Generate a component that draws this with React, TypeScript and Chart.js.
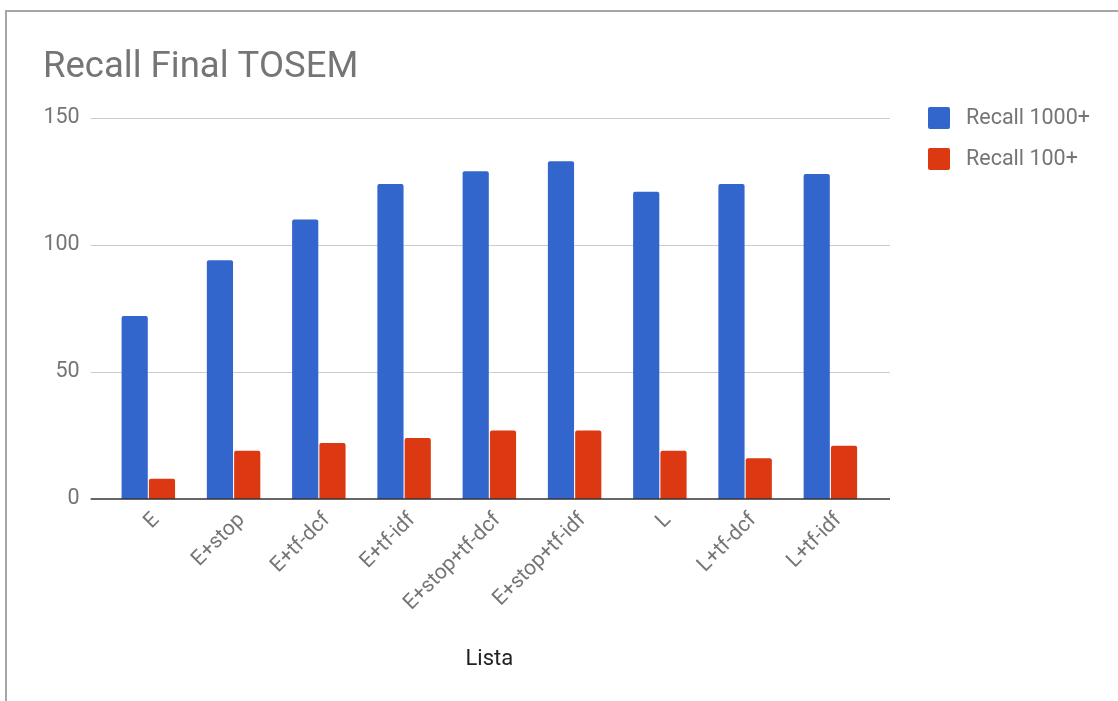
import { useEffect, useRef } from "react";
import { Chart, registerables } from "chart.js";

Chart.register(...registerables);

const categories = [
  "E",
  "E+stop",
  "E+tf-dcf",
  "E+tf-idf",
  "E+stop+tf-dcf",
  "E+stop+tf-idf",
  "L",
  "L+tf-dcf",
  "L+tf-idf",
];
const recall1000 = [72, 94, 110, 124, 129, 133, 121, 124, 128];
const recall100 = [8, 19, 22, 24, 27, 27, 19, 16, 21];
const seriesNames = ["Recall 1000+", "Recall 100+"];
const seriesColors = ["#3366cc", "#dc3912"];
const yTicks = [0, 50, 100, 150];
const chartTitle = "Recall Final TOSEM";
const xAxisTitle = "Lista";

const FONT = "Roboto, Arial, sans-serif";

// Gridlines, baseline, title, legend and axis title drawn around the plot.
const decorations = {
  id: "decorations",
  beforeDatasetsDraw(chart: any) {
    const { ctx, chartArea, scales } = chart;
    const y = scales.y;
    ctx.save();
    ctx.strokeStyle = "#cccccc";
    ctx.lineWidth = 1;
    for (const v of yTicks) {
      if (v === 0) continue;
      const py = Math.round(y.getPixelForValue(v)) + 0.5;
      ctx.beginPath();
      ctx.moveTo(chartArea.left - 15, py);
      ctx.lineTo(chartArea.right + 17, py);
      ctx.stroke();
    }
    ctx.restore();
  },
  afterDatasetsDraw(chart: any) {
    const { ctx, chartArea, scales } = chart;
    const py = scales.y.getPixelForValue(0);
    ctx.save();
    ctx.strokeStyle = "#333333";
    ctx.lineWidth = 1.5;
    ctx.beginPath();
    ctx.moveTo(chartArea.left - 15, py);
    ctx.lineTo(chartArea.right + 17, py);
    ctx.stroke();
    ctx.restore();
  },
  afterDraw(chart: any) {
    const { ctx, chartArea } = chart;
    ctx.save();

    // Title
    ctx.fillStyle = "#757575";
    ctx.font = `36.5px ${FONT}`;
    ctx.textAlign = "left";
    ctx.textBaseline = "alphabetic";
    ctx.fillText(chartTitle, 43, 77);

    // Legend
    const datasets = chart.data.datasets;
    ctx.font = `21.5px ${FONT}`;
    ctx.textBaseline = "middle";
    datasets.forEach((ds: any, i: number) => {
      const cy = chartArea.top + i * 41;
      ctx.fillStyle = ds.backgroundColor;
      ctx.beginPath();
      (ctx as any).roundRect(928, cy - 11, 22, 22, 2);
      ctx.fill();
      ctx.fillStyle = "#757575";
      ctx.fillText(ds.label, 966, cy + 1);
    });

    // X axis title
    ctx.fillStyle = "#222222";
    ctx.font = `22px ${FONT}`;
    ctx.textAlign = "center";
    ctx.textBaseline = "middle";
    ctx.fillText(xAxisTitle, (chartArea.left + chartArea.right) / 2, 659);

    ctx.restore();
  },
};

export default function App() {
  const canvasRef = useRef<HTMLCanvasElement | null>(null);

  useEffect(() => {
    const canvas = canvasRef.current;
    if (!canvas) return;
    const chart = new Chart(canvas, {
      type: "bar",
      data: {
        labels: categories,
        datasets: [
          {
            label: seriesNames[0],
            data: recall1000,
            backgroundColor: seriesColors[0],
            borderRadius: 2,
            categoryPercentage: 0.64,
            barPercentage: 0.96,
          },
          {
            label: seriesNames[1],
            data: recall100,
            backgroundColor: seriesColors[1],
            borderRadius: 2,
            categoryPercentage: 0.64,
            barPercentage: 0.96,
          },
        ],
      },
      options: {
        responsive: false,
        animation: false,
        devicePixelRatio: 1,
        layout: {
          padding: { top: 118, right: 245, bottom: 0, left: 0 },
        },
        plugins: {
          legend: { display: false },
          title: { display: false },
          tooltip: { enabled: false },
        },
        scales: {
          x: {
            grid: { display: false, drawTicks: false },
            border: { display: false },
            ticks: {
              autoSkip: false,
              minRotation: 45,
              maxRotation: 45,
              padding: 9,
              labelOffset: 8,
              color: "#757575",
              font: { family: FONT, size: 21 },
            },
            afterFit(scale: any) {
              scale.height = 202;
            },
          },
          y: {
            min: 0,
            max: 150,
            grid: { display: false, drawTicks: false },
            border: { display: false },
            ticks: {
              stepSize: 50,
              padding: 26,
              color: "#757575",
              font: { family: FONT, size: 21.5 },
            },
            afterFit(scale: any) {
              scale.width = 105.7;
            },
          },
        },
      },
      plugins: [decorations],
    });
    return () => chart.destroy();
  }, []);

  return (
    <>
      <div
        style={{
          position: "absolute",
          left: 5,
          top: 10,
          width: 1113,
          height: 691,
          boxSizing: "border-box",
          borderTop: "2px solid #a6a6a6",
          borderLeft: "2px solid #a6a6a6",
        }}
      />
      <canvas
        ref={canvasRef}
        width={1118}
        height={701}
        style={{ position: "absolute", left: 0, top: 0, width: 1118, height: 701 }}
      />
    </>
  );
}
